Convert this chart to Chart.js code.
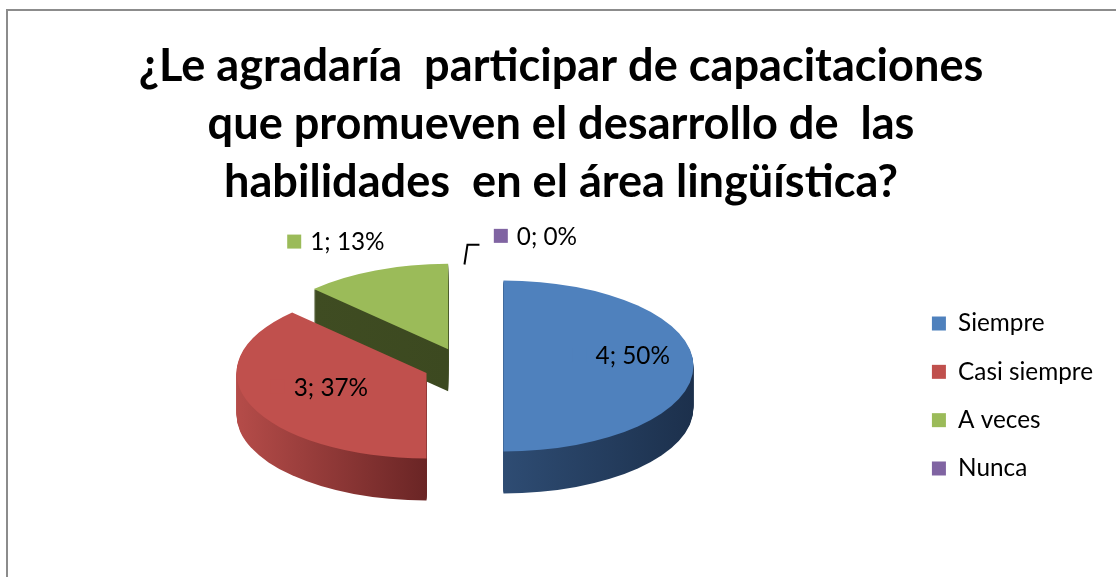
<!DOCTYPE html>
<html><head><meta charset="utf-8">
<script src="https://cdn.jsdelivr.net/npm/chart.js@4.4.1/dist/chart.umd.min.js"></script>
<style>html,body{margin:0;padding:0;background:#fff;overflow:hidden}#wrap{width:1116px;height:577px;position:relative}</style>
</head><body><div id="wrap"><canvas id="c" width="1116" height="577"></canvas></div>
<script>
// ---- data ----
const titleLines = ['¿Le agradaría  participar de capacitaciones', 'que promueven el desarrollo de  las', 'habilidades  en el área lingüística?'];
const categories = ['Siempre', 'Casi siempre', 'A veces', 'Nunca'];
const values = [4, 3, 1, 0];
const percentLabels = ['50%', '37%', '13%', '0%'];

// ---- styles ----
const topColors = ['#4F81BD', '#C0504D', '#9BBB59', '#8064A2'];
const sideColors = [['#2e4c73', '#1c304c'], ['#b54c49', '#6a2525'], ['#3f4c22', '#3c4920'], ['#5a4673', '#4a3a60']];
const FAMILY = 'Lato, "Open Sans", "Noto Sans", sans-serif';

function fitSize(text, weight, target) {
  const c = document.createElement('canvas').getContext('2d');
  c.font = weight + ' 100px ' + FAMILY;
  return 100 * target / c.measureText(text).width;
}
const titleSize = fitSize(titleLines[0], 'bold', 845);
const labelSize = fitSize('Casi siempre', 'normal', 135);

const pie3d = {
  id: 'pie3d',
  beforeDraw(chart, args, o) {
    const ctx = chart.ctx;
    ctx.save();
    ctx.fillStyle = '#fff';
    ctx.fillRect(0, 0, chart.width, chart.height);
    ctx.strokeStyle = o.frameColor;
    ctx.lineWidth = 2;
    ctx.strokeRect(7, 10, chart.width + 40, chart.height + 40);
    ctx.restore();
  },
  beforeDatasetsDraw(chart, args, o) {
    const ctx = chart.ctx;
    const arcs = chart.getDatasetMeta(0).data;
    const cx = arcs[0].x, cy = arcs[0].y;
    const R = arcs[0].outerRadius;
    const setT = (a, dy) => {
      const mid = (a.startAngle + a.endAngle) / 2;
      ctx.translate(0, dy);
      ctx.translate(cx, cy + o.shiftY);
      ctx.scale(1, o.tilt);
      ctx.translate(-cx, -cy);
      ctx.translate(Math.cos(mid) * o.explode, Math.sin(mid) * o.explode);
    };
    // sides (extrusion)
    arcs.forEach((a, i) => {
      if (!(a.circumference > 0)) return;
      let xmin = a.x, xmax = a.x;
      for (let k = 0; k <= 40; k++) {
        const t = a.startAngle + (a.endAngle - a.startAngle) * k / 40;
        const xx = a.x + Math.cos(t) * a.outerRadius;
        xmin = Math.min(xmin, xx); xmax = Math.max(xmax, xx);
      }
      for (let d = o.depth; d >= 1; d--) {
        ctx.save();
        setT(a, d);
        const g = ctx.createLinearGradient(xmin, 0, xmax, 0);
        g.addColorStop(0, sideColors[i][0]);
        g.addColorStop(1, sideColors[i][1]);
        ctx.fillStyle = g;
        ctx.beginPath();
        ctx.moveTo(a.x, a.y);
        ctx.arc(a.x, a.y, a.outerRadius, a.startAngle, a.endAngle);
        ctx.closePath();
        ctx.fill();
        ctx.restore();
      }
    });
    // top faces
    arcs.forEach((a) => {
      ctx.save();
      setT(a, 0);
      a.draw(ctx);
      ctx.restore();
    });
    // data labels
    ctx.save();
    ctx.font = labelSize + 'px ' + FAMILY;
    ctx.textBaseline = 'middle';
    ctx.textAlign = 'left';
    arcs.forEach((a, i) => {
      const L = o.labels[i];
      const mid = (a.startAngle + a.endAngle) / 2;
      const rr = o.explode + L.r * R;
      const px = cx + Math.cos(mid) * rr + L.dx;
      const py = cy + o.shiftY + Math.sin(mid) * rr * o.tilt + L.dy;
      const text = values[i] + '; ' + percentLabels[i];
      const tw = ctx.measureText(text).width;
      const key = 14, gap = 9;
      const left = px - (key + gap + tw) / 2;
      ctx.fillStyle = topColors[i];
      ctx.fillRect(left, py - key / 2 - 1, key, key);
      ctx.fillStyle = '#000';
      ctx.fillText(text, left + key + gap, py);
      if (L.leader) {
        const ro = o.explode + R;
        const ox = cx + Math.cos(mid) * ro;
        const oy = cy + o.shiftY + Math.sin(mid) * ro * o.tilt;
        ctx.strokeStyle = '#000';
        ctx.lineWidth = 2;
        ctx.beginPath();
        ctx.moveTo(ox + 1, oy + 2);
        ctx.lineTo(ox + 4, py + 8);
        ctx.lineTo(ox + 16, py + 8);
        ctx.stroke();
      }
    });
    ctx.restore();
    return false;
  }
};

new Chart(document.getElementById('c'), {
  type: 'pie',
  data: {
    labels: categories,
    datasets: [{
      data: values,
      backgroundColor: topColors,
      borderWidth: 0,
      offset: 0
    }]
  },
  plugins: [pie3d],
  options: {
    responsive: false,
    animation: false,
    events: [],
    radius: 190,
    layout: { padding: { left: 19, right: 13, top: 0, bottom: 10 } },
    plugins: {
      tooltip: { enabled: false },
      title: {
        display: true,
        text: titleLines,
        color: '#000',
        font: { family: FAMILY, weight: 'bold', size: titleSize, lineHeight: 58 / titleSize },
        padding: { top: 37, bottom: 14 }
      },
      legend: {
        position: 'right',
        align: 'center',
        fullSize: false,
        labels: {
          boxWidth: 14, boxHeight: 14, padding: 24, color: '#000',
          font: { family: FAMILY, size: labelSize }
        }
      },
      pie3d: {
        frameColor: '#8c8c8c',
        tilt: 0.45,
        shiftY: -30,
        explode: 40,
        depth: 42,
        labels: [
          { r: 0.62, dx: 0, dy: -10 },
          { r: 0.61, dx: 0, dy: -5 },
          { r: 1.2, dx: -25, dy: -12 },
          { r: 1.3, dx: 72, dy: 0, leader: true }
        ]
      }
    }
  }
});
</script>
</body></html>
